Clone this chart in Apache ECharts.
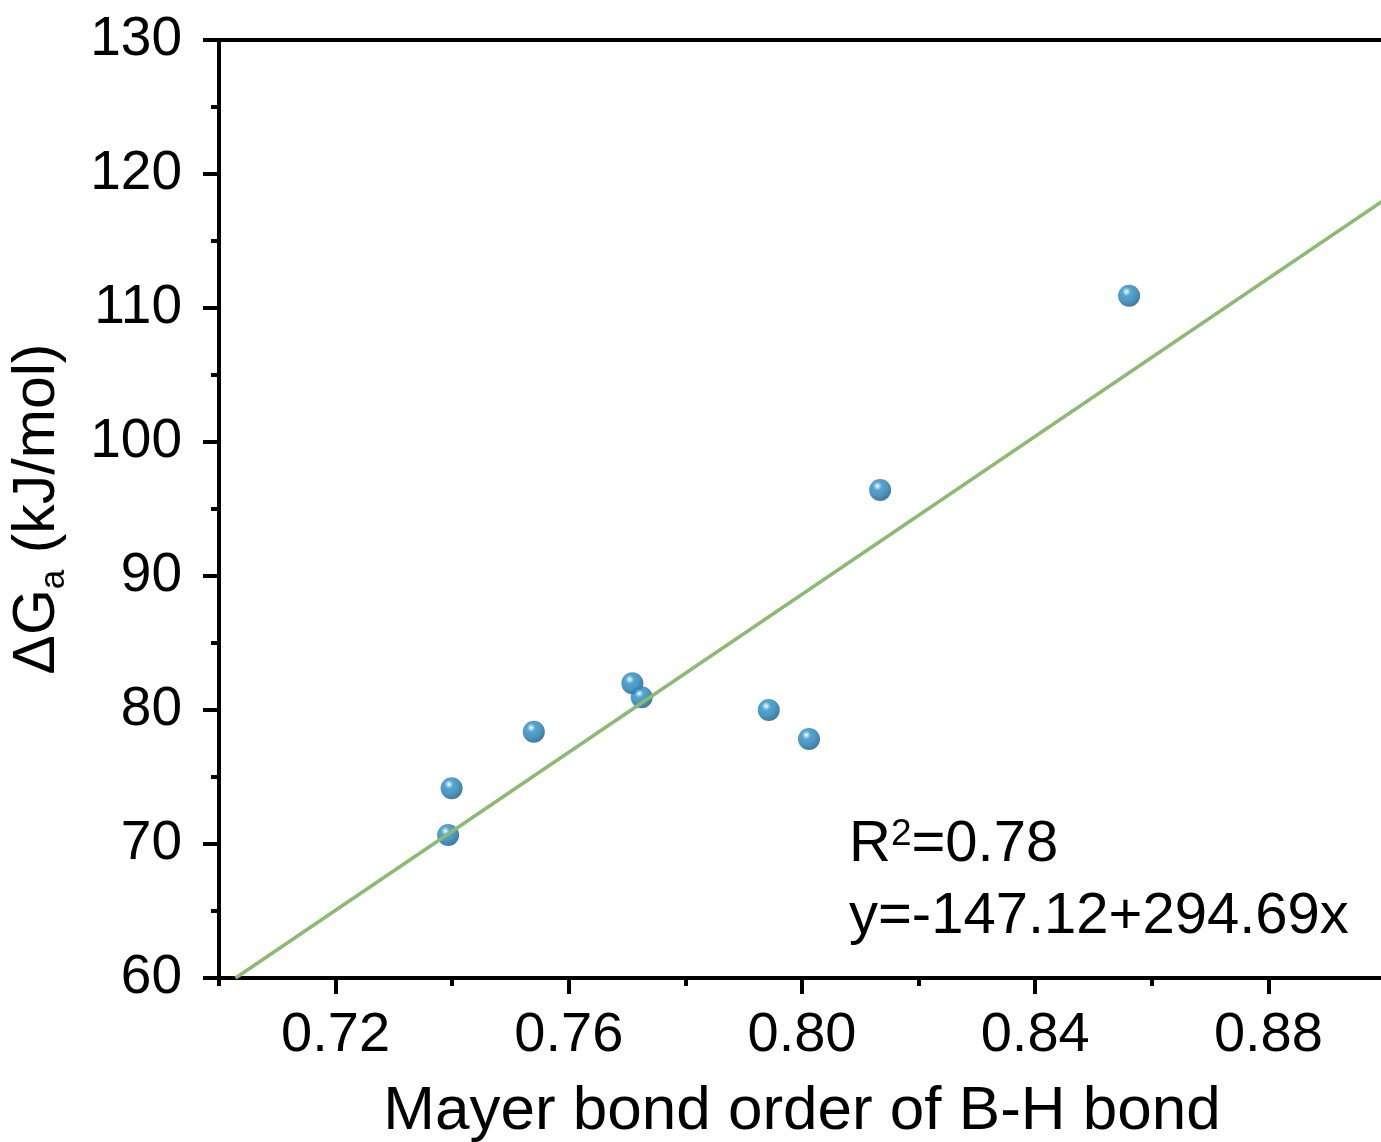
<!DOCTYPE html>
<html>
<head>
<meta charset="utf-8">
<title>Mayer bond order vs ΔGa</title>
<script src="https://cdn.jsdelivr.net/npm/echarts@6/dist/echarts.min.js"></script>
<style>
  html, body { margin: 0; padding: 0; background: #fff; }
  #chart { width: 1381px; height: 1142px; }
</style>
</head>
<body>
<div id="chart"></div>
<script>
// Mayer bond order of the B-H bond (x) and activation free energy in kJ/mol (y)
const bondOrder = [0.7399, 0.7393, 0.7540, 0.7709, 0.7725, 0.7943, 0.8012, 0.8134, 0.8561];
const deltaG    = [74.16, 70.67, 78.38, 81.99, 80.95, 80.00, 77.84, 96.42, 110.92];

// Linear fit reported on the plot: y = a + b*x
const fitIntercept = -147.12;
const fitSlope = 294.69;
const fitR2 = '0.78';

// Axis ranges and tick positions
const xMin = 0.70, xMax = 0.90;
const yMin = 60, yMax = 130, yStep = 10;
const xMajorTicks = [0.72, 0.76, 0.80, 0.84, 0.88];
const xMinorTicks = [0.70, 0.74, 0.78, 0.82, 0.86, 0.90];

const FONT = '"Liberation Sans", Arial, Helvetica, sans-serif';

const points = bondOrder.map((x, i) => [x, deltaG[i]]);
// fit line clipped to the visible y range
const fitStartX = (yMin - fitIntercept) / fitSlope;
const fitLine = [fitStartX, xMax].map(x => [x, fitIntercept + fitSlope * x]);

const chart = echarts.init(document.getElementById('chart'), null, { renderer: 'canvas' });

const tickStyle = { color: '#000', width: 4 };

chart.setOption({
  backgroundColor: '#fff',
  animation: false,
  grid: {
    left: 219, top: 40, width: 1166, height: 938,
    outerBoundsMode: 'none',
    containLabel: false,
    show: true, borderColor: '#000', borderWidth: 4, backgroundColor: 'transparent'
  },
  xAxis: [
    {
      type: 'value', min: xMin, max: xMax, position: 'bottom',
      name: 'Mayer bond order of B-H bond',
      nameLocation: 'middle', nameGap: 103,
      nameTextStyle: { fontFamily: FONT, fontSize: 62, color: '#000', lineHeight: 62 },
      axisLine: { show: true, onZero: false, lineStyle: { color: '#000', width: 4 } },
      axisTick: { show: true, inside: false, length: 16, customValues: xMajorTicks, lineStyle: tickStyle },
      axisLabel: {
        show: true, customValues: xMajorTicks, margin: 30,
        fontFamily: FONT, fontSize: 56, color: '#000', lineHeight: 56,
        formatter: v => v.toFixed(2)
      },
      splitLine: { show: false }
    },
    {
      type: 'value', min: xMin, max: xMax, position: 'bottom', offset: 0,
      axisLine: { show: false },
      axisTick: { show: true, inside: false, length: 8, customValues: xMinorTicks, lineStyle: tickStyle },
      axisLabel: { show: false },
      splitLine: { show: false }
    }
  ],
  yAxis: {
    type: 'value', min: yMin, max: yMax, interval: yStep,
    name: '{m|ΔG}{s|a}{m| (kJ/mol)}',
    nameLocation: 'middle', nameGap: 147,
    nameTextStyle: {
      fontFamily: FONT, color: '#000',
      rich: {
        m: { fontFamily: FONT, fontSize: 59, color: '#000', lineHeight: 64, verticalAlign: 'top' },
        s: { fontFamily: FONT, fontSize: 35, color: '#000', lineHeight: 10, verticalAlign: 'bottom' }
      }
    },
    axisLine: { show: true, onZero: false, lineStyle: { color: '#000', width: 4 } },
    axisTick: { show: true, inside: false, length: 16, lineStyle: tickStyle },
    minorTick: { show: true, splitNumber: 2, length: 8, lineStyle: tickStyle },
    axisLabel: { margin: 37, fontFamily: FONT, fontSize: 55, color: '#000', lineHeight: 55 },
    splitLine: { show: false },
    minorSplitLine: { show: false }
  },
  series: [
    {
      type: 'scatter',
      xAxisIndex: 0,
      data: points,
      symbol: 'circle',
      symbolSize: 22,
      z: 2,
      itemStyle: {
        color: {
          type: 'radial', x: 0.38, y: 0.32, r: 0.7,
          colorStops: [
            { offset: 0, color: '#ffffff' },
            { offset: 0.1, color: '#a6d4ec' },
            { offset: 0.28, color: '#2b8dc3' },
            { offset: 0.62, color: '#1f7db2' },
            { offset: 1, color: '#125882' }
          ]
        }
      }
    },
    {
      type: 'line',
      xAxisIndex: 0,
      data: fitLine,
      showSymbol: false,
      symbol: 'none',
      z: 3,
      lineStyle: { color: '#89bb70', width: 3.5 }
    }
  ],
  graphic: [
    {
      type: 'text', left: 849, top: 816, z: 10,
      style: {
        text: '{m|R}{p|2}{m|=' + fitR2 + '}',
        rich: {
          m: { fontFamily: FONT, fontSize: 58, fill: '#000', lineHeight: 60, verticalAlign: 'top' },
          p: { fontFamily: FONT, fontSize: 37, fill: '#000', lineHeight: 42, verticalAlign: 'top' }
        }
      }
    },
    {
      type: 'text', left: 849, top: 888, z: 10,
      style: {
        text: '{m|y=' + fitIntercept.toFixed(2) + '+' + fitSlope.toFixed(2) + 'x}',
        rich: {
          m: { fontFamily: FONT, fontSize: 58, fill: '#000', lineHeight: 60, verticalAlign: 'top' }
        }
      }
    }
  ]
});
</script>
</body>
</html>
